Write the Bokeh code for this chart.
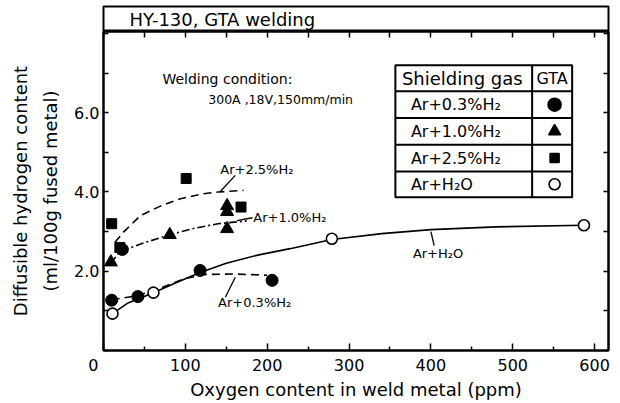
from bokeh.plotting import figure
from bokeh.models import Range1d, FixedTicker, LinearAxis, Label, ColumnDataSource
from bokeh.layouts import column
from bokeh.embed import file_html
from bokeh.resources import INLINE

FONT = "DejaVu Sans"

# ---------------- data ----------------
# Ar+0.3%H2 (filled circles)
h03_x = [10, 23, 42, 118, 206]
h03_y = [1.27, 2.55, 1.36, 2.02, 1.77]
# Ar+1.0%H2 (triangles)
h10_x = [9, 81, 151, 151, 151]
h10_y = [2.23, 2.92, 3.65, 3.50, 3.07]
# Ar+2.5%H2 (squares)
h25_x = [10, 20, 101, 168]
h25_y = [3.20, 2.60, 4.34, 3.62]
# Ar+H2O (open circles)
h2o_x = [11, 61, 279, 587]
h2o_y = [0.93, 1.46, 2.82, 3.16]

# hand-drawn trend curves
fit_h2o_x = [11, 30, 61, 90, 118, 150, 187, 228, 279, 340, 400, 480, 587]
fit_h2o_y = [0.93, 1.20, 1.46, 1.72, 1.97, 2.20, 2.40, 2.57, 2.80, 2.95, 3.05, 3.12, 3.16]
fit_03_x = [10, 41, 70, 100, 125, 160, 200]
fit_03_y = [1.28, 1.38, 1.58, 1.82, 1.92, 1.93, 1.90]
fit_10_x = [9, 20, 50, 81, 110, 140, 175]
fit_10_y = [2.20, 2.50, 2.72, 2.92, 3.08, 3.20, 3.27]
fit_25_x = [14, 25, 45, 70, 94, 120, 140, 171]
fit_25_y = [2.73, 3.00, 3.40, 3.65, 3.83, 3.95, 4.00, 4.04]

x_ticks = [0, 100, 200, 300, 400, 500, 600]
x_minor = [50, 150, 250, 350, 450, 550]
y_ticks = [0, 1, 2, 3, 4, 5, 6, 7, 8]
y_tick_labels = {0: "", 1: "", 2: "2.0", 3: "", 4: "4.0", 5: "", 6: "6.0", 7: "", 8: ""}
# the shared origin "0" sits left of the x axis start (padded with no-break spaces)
x_tick_labels = {0: "0\u00a0\u00a0\u00a0\u00a0"}

gas_labels = ["Ar+0.3%H\u2082", "Ar+1.0%H\u2082", "Ar+2.5%H\u2082", "Ar+H\u2082O"]
gas_markers = ["circle", "triangle", "square", "circle"]
gas_fill = ["black", "black", "black", "white"]
gas_sizes = [13, 12, 9, 11]

title_text = "HY-130, GTA welding"
cond_line1 = "Welding condition:"
cond_line2 = "300A ,18V,150mm/min"

# ---------------- layout constants ----------------
FW, FH = 505, 319
BL, BR = 103, 6
XR = Range1d(0, 617)
YR = Range1d(0, 8.05)

# ---------------- title bar ----------------
tf = figure(frame_width=FW, frame_height=25, x_range=XR, y_range=Range1d(0, 1),
            x_axis_type=None, y_axis_type=None, toolbar_location=None,
            output_backend="svg", min_border_left=BL, min_border_right=BR,
            min_border_top=6, min_border_bottom=0)
tf.outline_line_color = "black"
tf.outline_line_width = 2
tf.grid.visible = False
tf.add_layout(Label(x=26, y=12.5, x_units="screen", y_units="screen", text=title_text,
                    text_font=FONT, text_font_size="18px", text_baseline="middle",
                    text_color="black"))

# ---------------- main plot ----------------
p = figure(frame_width=FW, frame_height=FH, x_range=XR, y_range=YR,
           toolbar_location=None, output_backend="svg",
           min_border_left=BL, min_border_right=BR, min_border_top=0, min_border_bottom=0)
p.grid.visible = False
p.outline_line_color = "black"
p.outline_line_width = 2
p.background_fill_color = "white"


def style_axis(ax, ticker, major_in, minor_in):
    ax.ticker = ticker
    ax.major_tick_in = major_in
    ax.major_tick_out = 0
    ax.minor_tick_in = minor_in
    ax.minor_tick_out = 0
    ax.axis_line_color = "black"
    ax.axis_line_width = 2
    ax.major_tick_line_width = 1.5
    ax.minor_tick_line_width = 1.5
    ax.major_label_text_font = FONT
    ax.major_label_text_color = "black"
    ax.axis_label_text_font = FONT
    ax.axis_label_text_font_style = "normal"
    ax.axis_label_text_color = "black"


xt = FixedTicker(ticks=x_ticks, minor_ticks=x_minor)
yt = FixedTicker(ticks=y_ticks, minor_ticks=[])

xa = p.xaxis[0]
style_axis(xa, xt, 7, 4)
xa.major_label_overrides = x_tick_labels
xa.major_label_text_font_size = "16px"
xa.major_label_standoff = 5
xa.axis_label = "Oxygen content in weld metal (ppm)"
xa.axis_label_text_font_size = "18px"
xa.axis_label_standoff = 1

ya = p.yaxis[0]
style_axis(ya, yt, 5, 0)
ya.major_label_overrides = y_tick_labels
ya.major_label_text_font_size = "16px"
ya.major_label_standoff = 4
ya.axis_label = "Diffusible hydrogen content\n(ml/100g fused metal)"
ya.axis_label_text_font_size = "18px"
ya.axis_label_text_line_height = 1.45
ya.axis_label_standoff = 10

top = LinearAxis()
style_axis(top, FixedTicker(ticks=x_ticks, minor_ticks=x_minor), 6, 6)
top.major_label_text_font_size = "0px"
top.major_label_text_color = None
top.major_label_standoff = 0
p.add_layout(top, "above")

right = LinearAxis()
style_axis(right, FixedTicker(ticks=y_ticks, minor_ticks=[]), 5, 0)
right.major_label_text_font_size = "0px"
right.major_label_text_color = None
right.major_label_standoff = 0
p.add_layout(right, "right")

# trend curves
LW = 1.6
p.line(fit_h2o_x, fit_h2o_y, line_color="black", line_width=LW)
p.line(fit_03_x, fit_03_y, line_color="black", line_width=LW, line_dash="8 5")
p.line(fit_10_x, fit_10_y, line_color="black", line_width=LW, line_dash="8 3 2 3")
p.line(fit_25_x, fit_25_y, line_color="black", line_width=LW, line_dash="8 5")

# data points
p.scatter(h03_x, h03_y, marker="circle", size=12, fill_color="black", line_color="black")
p.scatter(h10_x, h10_y, marker="triangle", size=13, fill_color="black", line_color="black")
p.scatter(h25_x, h25_y, marker="square", size=10, fill_color="black", line_color="black")
p.scatter(h2o_x, h2o_y, marker="circle", size=11, fill_color="white", line_color="black",
          line_width=1.6)

# curve labels with leader lines
curve_lab = [("Ar+2.5%H\u2082", 142.7, 4.57), ("Ar+1.0%H\u2082", 183, 3.36),
             ("Ar+H\u2082O", 378, 2.44), ("Ar+0.3%H\u2082", 140, 1.22)]
for t, lx, ly in curve_lab:
    p.add_layout(Label(x=lx, y=ly, text=t, text_font=FONT, text_font_size="13px",
                       text_baseline="middle", text_color="black"))
p.segment(x0=[161, 163, 400, 149], y0=[4.42, 3.28, 3.00, 1.35],
          x1=[143, 182, 404, 161], y1=[4.02, 3.35, 2.65, 1.85],
          line_color="black", line_width=1.3)

# welding condition
p.add_layout(Label(x=72, y=6.84, text=cond_line1, text_font=FONT, text_font_size="14px",
                   text_baseline="middle", text_color="black"))
p.add_layout(Label(x=128, y=6.34, text=cond_line2, text_font=FONT, text_font_size="12.5px",
                   text_baseline="middle", text_color="black"))

# legend table
TL, TD, TR = 356.6, 523.7, 572.6
row_edges = [7.20, 6.54, 5.866, 5.194, 4.52, 3.87]
p.quad(left=[TL], right=[TR], bottom=[row_edges[-1]], top=[row_edges[0]],
       fill_color="white", line_color="black", line_width=2)
p.segment(x0=[TL] * 4, x1=[TR] * 4, y0=row_edges[1:5], y1=row_edges[1:5],
          line_color="black", line_width=2)
p.segment(x0=[TD], x1=[TD], y0=[row_edges[-1]], y1=[row_edges[0]],
          line_color="black", line_width=2)
hdr_y = (row_edges[0] + row_edges[1]) / 2
p.add_layout(Label(x=TL + 8, y=hdr_y, text="Shielding gas", text_font=FONT,
                   text_font_size="18px", text_baseline="middle", text_color="black"))
p.add_layout(Label(x=(TD + TR) / 2, y=hdr_y, text="GTA", text_font=FONT,
                   text_font_size="16px", text_baseline="middle", text_align="center",
                   text_color="black"))
row_y = [(row_edges[i] + row_edges[i + 1]) / 2 for i in range(1, 5)]
for lab, ry in zip(gas_labels, row_y):
    p.add_layout(Label(x=TL + 19, y=ry, text=lab, text_font=FONT, text_font_size="16px",
                       text_baseline="middle", text_color="black"))
src = ColumnDataSource(dict(x=[(TD + TR) / 2 + 3] * 4, y=row_y, m=gas_markers,
                            f=gas_fill, s=gas_sizes))
p.scatter(x="x", y="y", marker="m", fill_color="f", size="s", line_color="black",
          line_width=1.6, source=src)

layout = column(tf, p, spacing=0)
open("out.html", "w").write(file_html(layout, INLINE))
